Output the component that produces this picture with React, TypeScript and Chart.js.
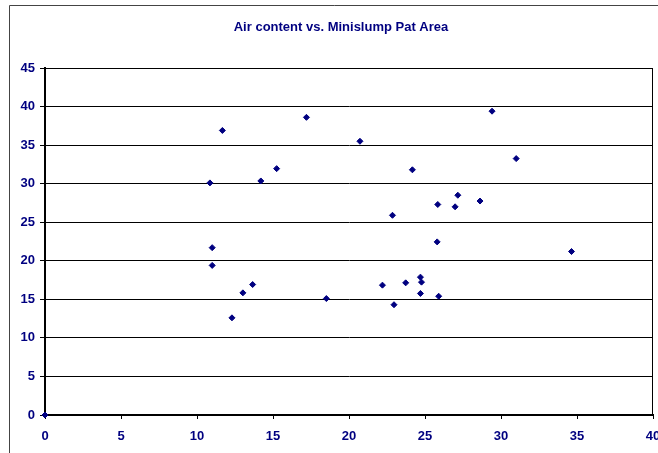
import React, { useEffect, useRef } from "react";
import { Chart, registerables } from "chart.js";

Chart.register(...registerables);

// Minislump pat area (x) and air content (y) for each mix
const patArea: number[] = [
  0, 10.85, 11.0, 11.0, 11.67, 12.3, 13.02, 13.66, 14.2, 15.24,
  17.2, 18.51, 20.72, 22.2, 22.86, 22.96, 23.73, 24.17, 24.7, 24.77,
  24.7, 25.8, 25.84, 25.9, 26.98, 27.16, 28.62, 29.41, 31.0, 34.64,
];
const airContent: number[] = [
  0, 30.1, 21.7, 19.4, 36.9, 12.6, 15.84, 16.92, 30.35, 31.95,
  38.6, 15.1, 35.5, 16.84, 25.9, 14.3, 17.14, 31.8, 17.88, 17.23,
  15.76, 22.45, 27.3, 15.4, 27.0, 28.5, 27.75, 39.4, 33.25, 21.2,
];

const xTicks: number[] = [0, 5, 10, 15, 20, 25, 30, 35, 40];
const yTicks: number[] = [0, 5, 10, 15, 20, 25, 30, 35, 40, 45];

const chartTitle = "Air content vs. Minislump Pat Area";

const NAVY = "#000080";
const FONT = 'Arial, "Liberation Sans", sans-serif';

// Chart frame, plot border and title, drawn in Excel style
const framePlugin = {
  id: "frame",
  beforeDraw(chart: any) {
    const { ctx, width, height } = chart;
    ctx.save();
    ctx.fillStyle = "#fff";
    ctx.fillRect(0, 0, width, height);
    ctx.strokeStyle = "#444";
    ctx.lineWidth = 1;
    ctx.beginPath();
    ctx.moveTo(9.5, height + 2);
    ctx.lineTo(9.5, 5.5);
    ctx.lineTo(width + 2, 5.5);
    ctx.stroke();

    ctx.fillStyle = NAVY;
    ctx.font = `bold 13px ${FONT}`;
    ctx.textAlign = "center";
    ctx.textBaseline = "middle";
    ctx.fillText(chartTitle, 341, 27);
    ctx.restore();
  },
  beforeDatasetsDraw(chart: any) {
    const { ctx, chartArea } = chart;
    ctx.save();
    ctx.strokeStyle = "#000";
    ctx.lineWidth = 1;
    ctx.beginPath();
    ctx.moveTo(chartArea.left, chartArea.top + 0.5);
    ctx.lineTo(chartArea.right - 0.5, chartArea.top + 0.5);
    ctx.lineTo(chartArea.right - 0.5, chartArea.bottom);
    ctx.stroke();
    ctx.restore();
  },
};

export default function App() {
  const canvasRef = useRef<HTMLCanvasElement | null>(null);

  useEffect(() => {
    if (!canvasRef.current) return;
    const points = patArea.map((x, i) => ({ x, y: airContent[i] }));

    const chart = new Chart(canvasRef.current, {
      type: "scatter",
      data: {
        datasets: [
          {
            label: "Air content",
            data: points,
            pointStyle: "rectRot",
            pointRadius: 3,
            pointBorderWidth: 1,
            backgroundColor: NAVY,
            borderColor: NAVY,
            clip: false,
          },
        ],
      },
      options: {
        responsive: false,
        animation: false,
        devicePixelRatio: 1,
        layout: { padding: { left: 0, top: 68, right: 5, bottom: 0 } },
        plugins: {
          legend: { display: false },
          title: { display: false },
          tooltip: { enabled: false },
        },
        scales: {
          x: {
            type: "linear",
            min: xTicks[0],
            max: xTicks[xTicks.length - 1],
            afterBuildTicks: (scale: any) => {
              scale.ticks = xTicks.map((v) => ({ value: v }));
            },
            afterFit: (scale: any) => {
              scale.height = 38;
              scale.paddingLeft = 0;
              scale.paddingRight = 0;
            },
            grid: {
              drawOnChartArea: false,
              drawTicks: true,
              tickLength: 4,
              tickColor: "#000",
              color: "#000",
            },
            border: { display: true, color: "#000", width: 2 },
            ticks: {
              maxRotation: 0,
              autoSkip: false,
              padding: 10,
              color: NAVY,
              font: { family: FONT, size: 13, weight: "bold" },
            },
          },
          y: {
            type: "linear",
            min: yTicks[0],
            max: yTicks[yTicks.length - 1],
            afterBuildTicks: (scale: any) => {
              scale.ticks = yTicks.map((v) => ({ value: v }));
            },
            afterFit: (scale: any) => {
              scale.width = 45;
              scale.paddingTop = 0;
              scale.paddingBottom = 0;
            },
            grid: {
              drawOnChartArea: true,
              drawTicks: true,
              tickLength: 5,
              tickColor: "#000",
              color: "#000",
              lineWidth: 1,
            },
            border: { display: true, color: "#000", width: 2 },
            ticks: {
              autoSkip: false,
              padding: 5,
              color: NAVY,
              font: { family: FONT, size: 13, weight: "bold" },
            },
          },
        },
      },
      plugins: [framePlugin],
    });

    return () => chart.destroy();
  }, []);

  return (
    <div
      style={{
        position: "absolute",
        left: 0,
        top: 0,
        width: 658,
        height: 453,
        overflow: "hidden",
        background: "#fff",
      }}
    >
      <canvas ref={canvasRef} width={658} height={453} />
    </div>
  );
}
